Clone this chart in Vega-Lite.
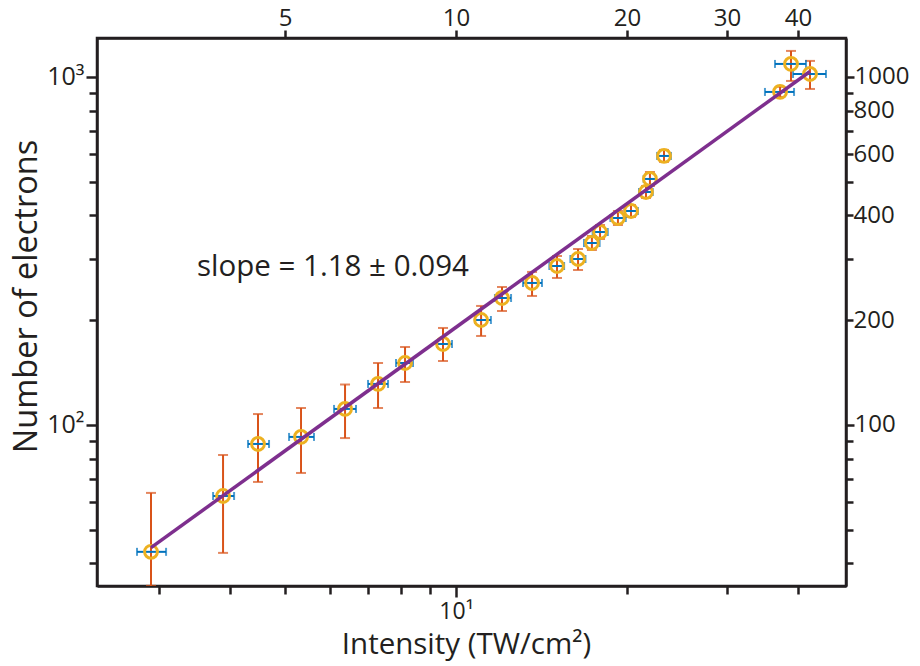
{
  "$schema": "https://vega.github.io/schema/vega-lite/v6.json",
  "width": 749,
  "height": 548,
  "autosize": "none",
  "padding": {"left": 97, "top": 38, "right": 74, "bottom": 80},
  "background": "white",
  "config": {
    "view": {"stroke": "#231f20", "strokeWidth": 2.5},
    "font": "Open Sans",
    "axis": {
      "domainColor": "#231f20", "domainWidth": 2.5,
      "tickColor": "#231f20", "tickWidth": 2.5,
      "labelColor": "#231f20", "titleColor": "#231f20",
      "labelFont": "Open Sans", "titleFont": "Open Sans",
      "titleFontWeight": "normal", "grid": false,
      "labelOverlap": false, "labelFlush": false
    }
  },
  "datasets": {
    "pts": [
      {"x": 2.904, "xlo": 2.744, "xhi": 3.087, "y": 43.2, "ylo": 34.5, "yhi": 63.8},
      {"x": 3.889, "xlo": 3.735, "xhi": 4.067, "y": 62.5, "ylo": 42.9, "yhi": 82.0},
      {"x": 4.481, "xlo": 4.303, "xhi": 4.686, "y": 88.2, "ylo": 68.6, "yhi": 107.5},
      {"x": 5.335, "xlo": 5.082, "xhi": 5.623, "y": 92.4, "ylo": 72.8, "yhi": 111.9},
      {"x": 6.377, "xlo": 6.099, "xhi": 6.667, "y": 111.2, "ylo": 91.7, "yhi": 130.7},
      {"x": 7.29, "xlo": 7.0, "xhi": 7.592, "y": 131.2, "ylo": 111.9, "yhi": 150.7},
      {"x": 8.133, "xlo": 7.841, "xhi": 8.401, "y": 150.7, "ylo": 132.9, "yhi": 167.5},
      {"x": 9.487, "xlo": 9.26, "xhi": 9.84, "y": 170.9, "ylo": 152.7, "yhi": 190.0},
      {"x": 11.07, "xlo": 10.8, "xhi": 11.52, "y": 200.3, "ylo": 180.2, "yhi": 219.8},
      {"x": 12.05, "xlo": 11.71, "xhi": 12.5, "y": 231.7, "ylo": 212.6, "yhi": 249.2},
      {"x": 13.61, "xlo": 13.12, "xhi": 14.17, "y": 255.9, "ylo": 234.8, "yhi": 275.3},
      {"x": 15.06, "xlo": 14.6, "xhi": 15.5, "y": 286.3, "ylo": 264.5, "yhi": 305.9},
      {"x": 16.4, "xlo": 15.9, "xhi": 16.9, "y": 299.9, "ylo": 278.8, "yhi": 320.4},
      {"x": 17.35, "xlo": 16.8, "xhi": 17.9, "y": 333.4, "ylo": 318.3, "yhi": 349.2},
      {"x": 17.93, "xlo": 17.4, "xhi": 18.5, "y": 358.5, "ylo": 342.3, "yhi": 375.5},
      {"x": 19.28, "xlo": 18.7, "xhi": 19.9, "y": 393.3, "ylo": 375.5, "yhi": 412.0},
      {"x": 20.33, "xlo": 19.8, "xhi": 20.9, "y": 412.0, "ylo": 396.0, "yhi": 428.7},
      {"x": 21.6, "xlo": 21.0, "xhi": 22.2, "y": 467.1, "ylo": 449.0, "yhi": 486.0},
      {"x": 21.95, "xlo": 21.4, "xhi": 22.5, "y": 509.2, "ylo": 486.2, "yhi": 533.3},
      {"x": 23.24, "xlo": 22.6, "xhi": 23.9, "y": 593.0, "ylo": 570.0, "yhi": 617.0},
      {"x": 37.2, "xlo": 34.99, "xhi": 39.37, "y": 905.6, "ylo": 876.0, "yhi": 937.0},
      {"x": 38.89, "xlo": 36.44, "xhi": 41.32, "y": 1090, "ylo": 973.9, "yhi": 1188},
      {"x": 42.0, "xlo": 39.21, "xhi": 44.81, "y": 1020, "ylo": 923.6, "yhi": 1112}
    ],
    "fit": [
      {"x": 2.904, "y": 44.4},
      {"x": 42.0, "y": 1037}
    ],
    "note": [
      {"x": 3.5, "y": 284.6, "label": "slope = 1.18 ± 0.094"}
    ]
  },
  "layer": [
    {
      "data": {"name": "pts"},
      "mark": {"type": "rule", "color": "#D95319", "strokeWidth": 2, "clip": true},
      "encoding": {
        "x": {"field": "x", "type": "quantitative",
          "scale": {"type": "log", "domain": [2.333, 48.6], "nice": false},
          "axis": {"orient": "bottom", "values": [3, 4, 5, 6, 7, 8, 9, 10, 20, 30, 40],
            "labelExpr": "datum.value == 10 ? '10¹' : ''",
            "tickSize": {"condition": {"test": "datum.value == 10", "value": 11}, "value": 8},
            "labelFontSize": 23, "labelPadding": 3,
            "title": "Intensity (TW/cm²)", "titleFontSize": 29.5, "titlePadding": 7, "titleX": 369}},
        "y": {"field": "ylo", "type": "quantitative",
          "scale": {"type": "log", "domain": [34.46, 1294], "nice": false},
          "axis": {"orient": "left", "values": [40, 50, 60, 70, 80, 90, 100, 200, 300, 400, 500, 600, 700, 800, 900, 1000],
            "labelExpr": "datum.value == 100 ? '10²' : (datum.value == 1000 ? '10³' : '')",
            "tickSize": {"condition": {"test": "datum.value == 100 || datum.value == 1000", "value": 11}, "value": 8},
            "labelFontSize": 25, "labelPadding": 2,
            "title": "Number of electrons", "titleFontSize": 32.5, "titlePadding": 3, "titleY": 258}},
        "y2": {"field": "yhi"}
      }
    },
    {
      "data": {"name": "pts"},
      "mark": {"type": "tick", "orient": "horizontal", "color": "#D95319", "size": 10, "thickness": 2, "clip": true},
      "encoding": {
        "x": {"field": "x", "type": "quantitative", "scale": {"type": "log", "domain": [2.333, 48.6], "nice": false}, "axis": null},
        "y": {"field": "ylo", "type": "quantitative", "scale": {"type": "log", "domain": [34.46, 1294], "nice": false}, "axis": null}
      }
    },
    {
      "data": {"name": "pts"},
      "mark": {"type": "tick", "orient": "horizontal", "color": "#D95319", "size": 10, "thickness": 2, "clip": true},
      "encoding": {
        "x": {"field": "x", "type": "quantitative", "scale": {"type": "log", "domain": [2.333, 48.6], "nice": false}, "axis": null},
        "y": {"field": "yhi", "type": "quantitative", "scale": {"type": "log", "domain": [34.46, 1294], "nice": false}, "axis": null}
      }
    },
    {
      "data": {"name": "pts"},
      "mark": {"type": "rule", "color": "#0072BD", "strokeWidth": 2, "clip": true},
      "encoding": {
        "x": {"field": "xlo", "type": "quantitative", "scale": {"type": "log", "domain": [2.333, 48.6], "nice": false}, "axis": null},
        "x2": {"field": "xhi"},
        "y": {"field": "y", "type": "quantitative", "scale": {"type": "log", "domain": [34.46, 1294], "nice": false}, "axis": null}
      }
    },
    {
      "data": {"name": "pts"},
      "mark": {"type": "tick", "orient": "vertical", "color": "#0072BD", "size": 8, "thickness": 2, "clip": true},
      "encoding": {
        "x": {"field": "xlo", "type": "quantitative", "scale": {"type": "log", "domain": [2.333, 48.6], "nice": false}, "axis": null},
        "y": {"field": "y", "type": "quantitative", "scale": {"type": "log", "domain": [34.46, 1294], "nice": false}, "axis": null}
      }
    },
    {
      "data": {"name": "pts"},
      "mark": {"type": "tick", "orient": "vertical", "color": "#0072BD", "size": 8, "thickness": 2, "clip": true},
      "encoding": {
        "x": {"field": "xhi", "type": "quantitative", "scale": {"type": "log", "domain": [2.333, 48.6], "nice": false}, "axis": null},
        "y": {"field": "y", "type": "quantitative", "scale": {"type": "log", "domain": [34.46, 1294], "nice": false}, "axis": null}
      }
    },
    {
      "data": {"name": "pts"},
      "mark": {"type": "point", "shape": "circle", "filled": false, "stroke": "#EDB120", "strokeWidth": 3, "size": 165, "opacity": 1, "clip": true},
      "encoding": {
        "x": {"field": "x", "type": "quantitative",
          "scale": {"type": "log", "domain": [2.333, 48.6], "nice": false},
          "axis": {"orient": "top", "values": [5, 10, 20, 30, 40],
            "labelExpr": "format(datum.value, 'd')",
            "tickSize": 8, "labelFontSize": 24, "labelPadding": 0, "title": null}},
        "y": {"field": "y", "type": "quantitative",
          "scale": {"type": "log", "domain": [34.46, 1294], "nice": false},
          "axis": {"orient": "right", "values": [40, 50, 60, 70, 80, 90, 100, 200, 300, 400, 500, 600, 700, 800, 900, 1000],
            "labelExpr": "indexof([100, 200, 400, 600, 800, 1000], datum.value) >= 0 ? format(datum.value, 'd') : ''",
            "tickSize": {"condition": {"test": "datum.value == 100 || datum.value == 1000", "value": 8}, "value": 7},
            "labelFontSize": 24, "labelPadding": 0, "title": null}}
      }
    },
    {
      "data": {"name": "fit"},
      "mark": {"type": "line", "color": "#7E2F8E", "strokeWidth": 3.5, "clip": true},
      "encoding": {
        "x": {"field": "x", "type": "quantitative", "scale": {"type": "log", "domain": [2.333, 48.6], "nice": false}, "axis": null},
        "y": {"field": "y", "type": "quantitative", "scale": {"type": "log", "domain": [34.46, 1294], "nice": false}, "axis": null}
      }
    },
    {
      "data": {"name": "note"},
      "mark": {"type": "text", "align": "left", "baseline": "middle", "fontSize": 29.5, "color": "#231f20", "font": "Open Sans"},
      "encoding": {
        "x": {"field": "x", "type": "quantitative", "scale": {"type": "log", "domain": [2.333, 48.6], "nice": false}, "axis": null},
        "y": {"field": "y", "type": "quantitative", "scale": {"type": "log", "domain": [34.46, 1294], "nice": false}, "axis": null},
        "text": {"field": "label"}
      }
    }
  ],
  "resolve": {"axis": {"x": "independent", "y": "independent"}}
}
